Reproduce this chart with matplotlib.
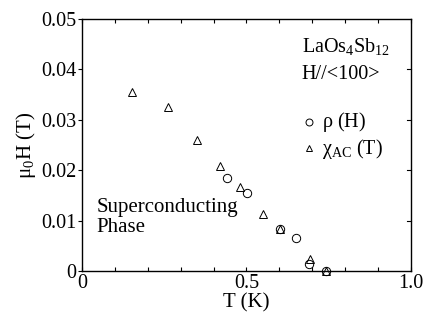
import numpy as np
import matplotlib
matplotlib.use("Agg")
import matplotlib.pyplot as plt
from matplotlib.ticker import MultipleLocator, FixedLocator

plt.rcParams["font.family"] = ["Liberation Serif", "DejaVu Serif"]
plt.rcParams["mathtext.fontset"] = "stix"

# rho(H) data
T_rho = [0.441, 0.502, 0.602, 0.650, 0.690, 0.741]
H_rho = [0.0185, 0.0155, 0.0083, 0.0066, 0.0014, 0.0]
# chi_AC(T) data
T_chi = [0.152, 0.262, 0.350, 0.420, 0.481, 0.550, 0.602, 0.692, 0.741]
H_chi = [0.0355, 0.0325, 0.0259, 0.0209, 0.0167, 0.0113, 0.0083, 0.0024, 0.0]

x_ticks = [0, 0.5, 1.0]
x_labels = ["0", "0.5", "1.0"]
y_ticks = [0, 0.01, 0.02, 0.03, 0.04, 0.05]
y_labels = ["0", "0.01", "0.02", "0.03", "0.04", "0.05"]

fig = plt.figure(figsize=(4.24, 3.2), dpi=100)
ax = fig.add_axes([0.1934, 0.1531, 0.7756, 0.7875])

ax.plot(T_rho, H_rho, "o", ms=6, mfc="none", mec="k", mew=0.7, clip_on=False)
ax.plot(T_chi, H_chi, "^", ms=6, mfc="none", mec="k", mew=0.7, clip_on=False)

ax.set_xlim(0, 1.0)
ax.set_ylim(0, 0.05)
ax.xaxis.set_major_locator(FixedLocator(x_ticks))
ax.xaxis.set_minor_locator(MultipleLocator(0.1))
ax.yaxis.set_major_locator(FixedLocator(y_ticks))
ax.set_xticklabels(x_labels)
ax.set_yticklabels(y_labels)
ax.tick_params(axis="x", which="both", direction="in", top=True, length=3,
               width=0.8, labelsize=14.5, pad=2)
ax.tick_params(axis="y", which="both", direction="out", length=3,
               width=0.8, labelsize=14.5, pad=1)
for sp in ax.spines.values():
    sp.set_linewidth(1.0)

# inward right-side ticks
for v in y_ticks[1:-1]:
    ax.plot([1.0, 0.988], [v, v], "-", color="k", lw=0.8, clip_on=False)

ax.set_xlabel("T (K)", fontsize=15, labelpad=0)
ax.set_ylabel(r"$\mathregular{\mu_0H}$ (T)", fontsize=15, labelpad=2)

ax.text(0.668, 0.0435, r"LaOs$\mathregular{_4}$Sb$\mathregular{_{12}}$", fontsize=14.5)
ax.text(0.668, 0.0380, "H//<100>", fontsize=14.5)
ax.plot(0.69, 0.0296, "o", ms=5, mfc="none", mec="k", mew=0.7)
ax.text(0.73, 0.0296, r"$\mathregular{\rho}$ (H)", fontsize=14.5, va="center")
ax.plot(0.69, 0.0245, "^", ms=5, mfc="none", mec="k", mew=0.7)
ax.text(0.73, 0.0243, r"$\mathregular{\chi_{AC}}$ (T)", fontsize=14.5, va="center")

ax.text(0.045, 0.0145, "Superconducting\nPhase", fontsize=15, va="top",
        linespacing=1.05)

fig.savefig("out.png", dpi=100)
